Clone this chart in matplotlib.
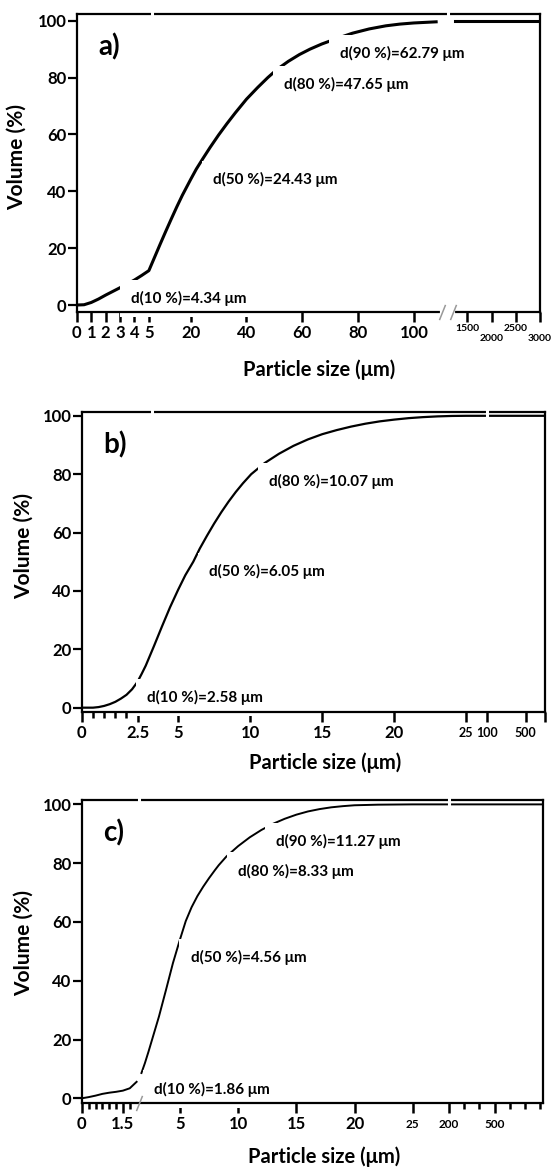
import numpy as np
import matplotlib
matplotlib.use("Agg")
import matplotlib.pyplot as plt

plt.rcParams['font.family'] = ['Lato', 'DejaVu Sans']
plt.rcParams['font.weight'] = 'bold'
plt.rcParams['axes.labelweight'] = 'bold'

# =============================================================================
# Data (particle size in um, cumulative volume in %)
# =============================================================================

# a)
size_a = [0, 0.5, 1, 1.5, 2, 2.5, 3, 3.5, 4, 4.5, 5, 7, 9, 11, 13, 15, 17, 20, 22,
          24.43, 27, 30, 33, 36, 40, 44, 47.65, 51, 55, 59, 62.79, 67, 72, 78, 84,
          90, 95, 100, 108, 1250, 1500, 2000, 2500, 3000]
vol_a = [0, 0.1, 0.9, 2.1, 3.5, 4.8, 6.1, 7.4, 8.8, 10.4, 12.1, 16.7, 21.3, 25.8,
         30.2, 34.5, 38.6, 44.2, 47.8, 51.6, 55.5, 59.8, 63.8, 67.6, 72.4, 76.5, 80,
         82.9, 85.7, 88.1, 90, 91.8, 93.6, 95.6, 97.1, 98.2, 98.8, 99.2, 99.6,
         100, 100, 100, 100, 100]
ticks_a = [0, 1, 2, 3, 4, 5, 20, 40, 60, 80, 100, 1500, 2000, 2500, 3000]
ticklabels_a = ['0', '1', '2', '3', '4', '5', '20', '40', '60', '80', '100',
                '1500', '2000', '2500', '3000']
dlabels_a = ["d(90 %)=62.79 μm", "d(80 %)=47.65 μm", "d(50 %)=24.43 μm", "d(10 %)=4.34 μm"]

# b)
size_b = [0, 0.5, 0.75, 1, 1.25, 1.5, 1.75, 2, 2.25, 2.5, 2.58, 2.75, 3, 3.5, 4, 4.5,
          5, 5.5, 6.05, 6.5, 7, 7.5, 8, 8.5, 9, 9.5, 10.07, 11, 12, 13, 14, 15, 16,
          17, 18, 19, 20, 21, 22, 23, 24, 25, 100, 500, 1000]
vol_b = [0, 0, 0.2, 0.6, 1.2, 2.0, 3.1, 4.4, 6.3, 8.9, 9.8, 11.6, 14.4, 21.0, 27.8,
         34.4, 40.4, 45.4, 50, 54.5, 58.9, 63.1, 67.0, 70.6, 73.9, 76.9, 80, 83.8,
         87.0, 89.7, 91.9, 93.7, 95.1, 96.3, 97.3, 98.1, 98.7, 99.2, 99.55, 99.8,
         99.95, 100, 100, 100, 100]
ticks_b = [0, 2.5, 5, 10, 15, 20, 25, 100, 500, 1000]
ticklabels_b = ['0', '2.5', '5', '10', '15', '20', '25', '100', '500', '']
minor_b = [0.5, 1, 1.5, 2]
dlabels_b = ["d(80 %)=10.07 μm", "d(50 %)=6.05 μm", "d(10 %)=2.58 μm"]

# c)
size_c = [0, 0.25, 0.5, 0.75, 1.0, 1.25, 1.5, 1.75, 2.0, 2.25, 2.5, 2.75, 3, 3.5, 4,
          4.5, 5, 5.5, 6, 6.5, 7, 7.5, 8, 8.33, 9, 10, 11, 12, 13, 14, 15, 16, 17,
          18, 19, 20, 22, 25, 200, 500, 825]
vol_c = [0, 0.4, 0.9, 1.5, 1.9, 2.2, 2.6, 3.4, 5.6, 8.6, 12.0, 15.8, 19.8, 27.8,
         36.8, 46.0, 54.0, 60.3, 65.0, 68.8, 72.0, 74.9, 77.6, 79.3, 82.3, 85.8,
         88.8, 91.3, 93.4, 95.1, 96.5, 97.6, 98.4, 99.0, 99.4, 99.7, 99.9, 100,
         100, 100, 100]
ticks_c = [0, 1.5, 5, 10, 15, 20, 25, 200, 500]
ticklabels_c = ['0', '1.5', '5', '10', '15', '20', '25', '200', '500']
minor_c = [0.25, 0.5, 0.75, 1.0, 1.25, 1.75, 300, 400, 600, 700, 800]
dlabels_c = ["d(90 %)=11.27 μm", "d(80 %)=8.33 μm", "d(50 %)=4.56 μm", "d(10 %)=1.86 μm"]

# =============================================================================
# Layout: broken x axes as piecewise linear scales
# =============================================================================
panels = [
    dict(name='a)', x=size_a, y=vol_a, ticks=ticks_a, labels=ticklabels_a, minor=[],
         dl=dlabels_a, rect=[0.139, 0.7329, 0.837, 0.2551], xlim=(0, 3000),
         ylim=(-2.35, 102.35), lw=2.2,
         knots=([0, 5, 100, 110, 1200, 3000], [76.9, 148.9, 413.8, 441.7, 453, 539.7]),
         split=110, dpos=[(73.7, 88.5), (53.4, 77.4), (28.1, 44.0), (3.77, 2.4)],
         small=[1500, 2000, 2500, 3000], smallsize=7.5, topgaps=[6.0, 700],
         axgap=(112, 1180), slashes=[110, 1200], xlab=(0.523, -0.159),
         ylab=(-0.109, 0.521)),
    dict(name='b)', x=size_b, y=vol_b, ticks=ticks_b, labels=ticklabels_b, minor=minor_b,
         dl=dlabels_b, rect=[0.148, 0.3901, 0.8376, 0.2571], xlim=(0, 1000),
         ylim=(-1.4, 101.4), lw=1.6,
         knots=([0, 2.5, 5, 25, 100, 500, 1000], [81.8, 137.6, 178.1, 466.3, 486.8, 525.6, 545]),
         split=None, dpos=[(11.3, 77.4), (7.16, 46.5), (3.1, 3.4)],
         small=[25, 100, 500], smallsize=9, topgaps=[3.37, 100], axgap=None,
         slashes=[], xlab=(0.525, -0.134), ylab=(-0.104, 0.554)),
    dict(name='c)', x=size_c, y=vol_c, ticks=ticks_c, labels=ticklabels_c, minor=minor_c,
         dl=dlabels_c, rect=[0.148, 0.0546, 0.8343, 0.2599], xlim=(0, 825),
         ylim=(-1.7, 101.5), lw=1.4,
         knots=([0, 2.1, 5, 25, 200, 800, 825], [81.8, 139.3, 179.9, 412.7, 449, 540, 543.2]),
         split=2.1, dpos=[(13.24, 87.3), (10.0, 77.3), (5.91, 47.8), (3.16, 3.1)],
         small=[25, 200, 500], smallsize=8.5, topgaps=[2.1, 200], axgap=None,
         slashes=[2.1], xlab=(0.526, -0.143), ylab=(-0.105, 0.529)),
]

fig = plt.figure(figsize=(5.53, 11.67), dpi=100)

for p in panels:
    ax = fig.add_axes(p['rect'])
    kx, kp = p['knots']
    fwd = lambda v, kx=kx, kp=kp: np.interp(v, kx, kp)
    inv = lambda v, kx=kx, kp=kp: np.interp(v, kp, kx)
    ax.set_xscale('function', functions=(fwd, inv))
    ax.set_xlim(*p['xlim'])
    ax.set_ylim(*p['ylim'])

    x = np.array(p['x'])
    y = np.array(p['y'])
    if p['split'] is None:
        ax.plot(x, y, color='black', lw=p['lw'], zorder=2)
    else:
        m = x < p['split']
        ax.plot(x[m], y[m], color='black', lw=p['lw'], zorder=2)
        ax.plot(x[~m], y[~m], color='black', lw=p['lw'], zorder=2)

    for s in ax.spines.values():
        s.set_linewidth(1.6)

    ax.set_yticks([0, 20, 40, 60, 80, 100])
    ax.tick_params(axis='y', direction='out', length=6.5, width=1.6, pad=1, labelsize=12)
    ax.set_xticks(p['ticks'])
    ax.set_xticklabels(p['labels'])
    ax.set_xticks(p['minor'], minor=True)
    ax.tick_params(axis='x', which='major', direction='out', length=7, width=1.8,
                   pad=2.5, labelsize=12)
    ax.tick_params(axis='x', which='minor', direction='out', length=4.5, width=1.8)
    for t, v in zip(ax.xaxis.get_major_ticks(), p['ticks']):
        if v in p['small']:
            t.label1.set_fontsize(p['smallsize'])
            t.set_pad(4)
    if p['name'] == 'a)':
        for t, v in zip(ax.xaxis.get_major_ticks(), p['ticks']):
            if v in (1500, 2500):
                t.set_pad(1.5)
            elif v in (2000, 3000):
                t.set_pad(9)

    # breaks in the frame
    xt = ax.get_xaxis_transform()
    for g in p['topgaps']:
        ax.plot([g, g], [0.96, 1.02], transform=xt, color='white', lw=2.2,
                clip_on=False, zorder=6, solid_capstyle='butt')
    if p['axgap'] is not None:
        ax.plot(p['axgap'], [0, 0], transform=xt, color='white', lw=3,
                clip_on=False, zorder=6)
    if p['slashes']:
        ax.plot(p['slashes'], [0] * len(p['slashes']), transform=xt, ls='none',
                marker=[(-1, -2.5), (1, 2.5)], ms=11, mew=1.1, color='0.6',
                clip_on=False, zorder=7)

    # d-value labels; their white boxes cut the curve like in the original
    for txt, (tx, ty) in zip(p['dl'], p['dpos']):
        ax.text(tx, ty, txt, ha='left', va='center', fontsize=11, fontweight='bold',
                bbox=dict(facecolor='white', edgecolor='none', pad=8), zorder=2.3)

    ax.text(0.046, 0.89, p['name'], transform=ax.transAxes,
            ha='left', va='center', fontsize=20, fontweight='bold')

    ax.set_xlabel('Particle size (μm)', fontsize=14.5, fontweight='bold')
    ax.set_ylabel('Volume (%)', fontsize=15, fontweight='bold')
    ax.xaxis.set_label_coords(*p['xlab'])
    ax.yaxis.set_label_coords(*p['ylab'])

fig.savefig('out.png', dpi=100)
